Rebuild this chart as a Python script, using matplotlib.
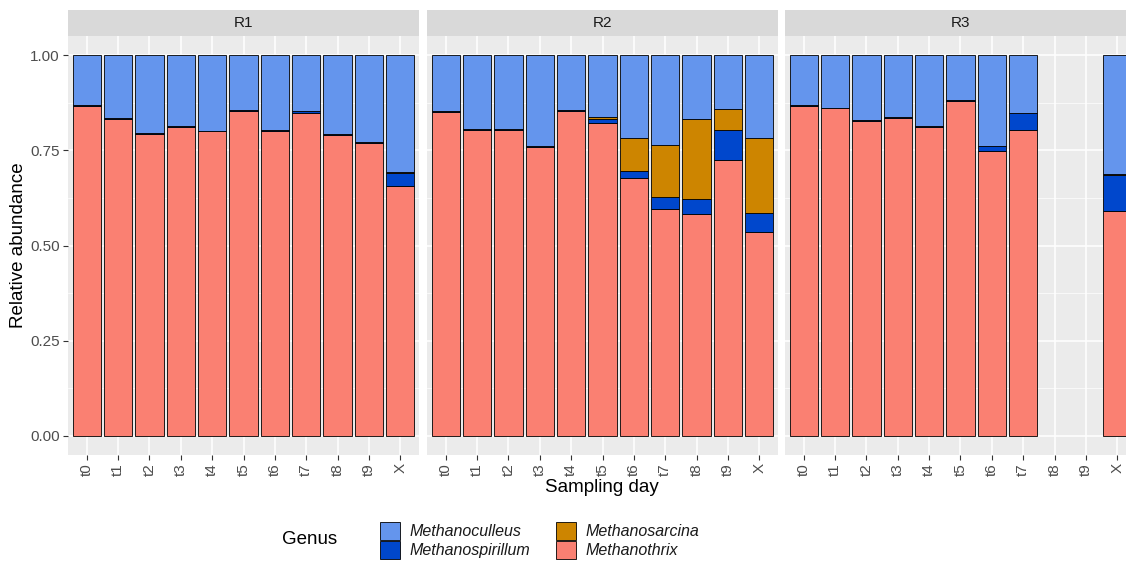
import numpy as np
import matplotlib
matplotlib.use("Agg")
import matplotlib.pyplot as plt
from matplotlib.patches import Patch

plt.rcParams['font.family'] = ['Liberation Sans', 'DejaVu Sans']

# %%
# Data
days = ['t0', 't1', 't2', 't3', 't4', 't5', 't6', 't7', 't8', 't9', 'X']
reactors = ['R1', 'R2', 'R3']
genera = ['Methanothrix', 'Methanospirillum', 'Methanosarcina', 'Methanoculleus']

r1_thrix = [0.866, 0.833, 0.792, 0.810, 0.800, 0.853, 0.800, 0.848, 0.790, 0.768, 0.655]
r1_spir = [0.004, 0.001, 0.003, 0.003, 0.001, 0.002, 0.003, 0.004, 0.004, 0.003, 0.035]
r1_sarc = [0.0, 0.0, 0.0, 0.0, 0.0, 0.0, 0.0, 0.0, 0.0, 0.0, 0.003]
r1_cull = [0.130, 0.166, 0.205, 0.187, 0.199, 0.145, 0.197, 0.148, 0.206, 0.229, 0.307]

r2_thrix = [0.850, 0.804, 0.804, 0.758, 0.852, 0.822, 0.678, 0.597, 0.583, 0.724, 0.535]
r2_spir = [0.003, 0.003, 0.003, 0.003, 0.004, 0.010, 0.018, 0.031, 0.038, 0.078, 0.051]
r2_sarc = [0.0, 0.0, 0.0, 0.0, 0.0, 0.006, 0.086, 0.135, 0.210, 0.056, 0.195]
r2_cull = [0.147, 0.193, 0.193, 0.239, 0.144, 0.162, 0.218, 0.237, 0.169, 0.142, 0.219]

nan = np.nan
r3_thrix = [0.866, 0.861, 0.828, 0.835, 0.810, 0.879, 0.748, 0.802, nan, nan, 0.590]
r3_spir = [0.003, 0.001, 0.001, 0.003, 0.003, 0.003, 0.014, 0.045, nan, nan, 0.094]
r3_sarc = [0.0, 0.0, 0.0, 0.0, 0.0, 0.0, 0.0, 0.0, nan, nan, 0.004]
r3_cull = [0.131, 0.138, 0.171, 0.162, 0.187, 0.118, 0.238, 0.153, nan, nan, 0.312]

data = {
    'R1': [r1_thrix, r1_spir, r1_sarc, r1_cull],
    'R2': [r2_thrix, r2_spir, r2_sarc, r2_cull],
    'R3': [r3_thrix, r3_spir, r3_sarc, r3_cull],
}

colors = {'Methanoculleus': '#6495ED', 'Methanospirillum': '#0047CC',
          'Methanosarcina': '#CD8500', 'Methanothrix': '#FA8072'}

# %%
W, H = 1126, 565
fig = plt.figure(figsize=(W / 100, H / 100), dpi=100)

lefts = [68, 427, 785]
pw = 351
top_px, bot_px = 36, 455
x = np.arange(len(days))

for i, r in enumerate(reactors):
    ax = fig.add_axes([lefts[i] / W, 1 - bot_px / H, pw / W, (bot_px - top_px) / H])
    ax.set_facecolor('#EBEBEB')
    bottom = np.zeros(len(days))
    for g, vals in zip(genera, data[r]):
        vals = np.array(vals, dtype=float)
        ok = ~np.isnan(vals)
        ax.bar(x[ok], vals[ok], bottom=bottom[ok], width=0.9,
               color=colors[g], edgecolor='black', linewidth=0.6, zorder=3)
        bottom = bottom + np.nan_to_num(vals)
    ax.set_xlim(-0.6, len(days) - 0.4)
    ax.set_ylim(-0.05, 1.05)
    ax.set_yticks([0, 0.25, 0.5, 0.75, 1.0])
    ax.set_yticks([0.125, 0.375, 0.625, 0.875], minor=True)
    ax.set_xticks(x)
    ax.set_xticklabels(days, rotation=90, ha='center', va='top',
                       fontsize=11, color='#4D4D4D')
    ax.grid(which='major', color='white', linewidth=1.1, zorder=0)
    ax.grid(which='minor', axis='y', color='white', linewidth=0.5, zorder=0)
    ax.set_axisbelow(True)
    for s in ax.spines.values():
        s.set_visible(False)
    ax.tick_params(axis='both', which='major', length=3.5, width=0.8,
                   color='#333333', pad=2.5)
    ax.tick_params(axis='y', which='minor', length=0)
    if i == 0:
        ax.set_yticklabels(['0.00', '0.25', '0.50', '0.75', '1.00'],
                           fontsize=11, color='#4D4D4D')
    else:
        ax.tick_params(axis='y', which='major', length=0, labelleft=False)

    # facet strip
    sax = fig.add_axes([lefts[i] / W, 1 - top_px / H, pw / W, 26 / H])
    sax.set_facecolor('#D9D9D9')
    sax.set_xticks([])
    sax.set_yticks([])
    for s in sax.spines.values():
        s.set_visible(False)
    sax.text(0.5, 0.5, r, ha='center', va='center', fontsize=11,
             color='#1A1A1A', transform=sax.transAxes)

fig.text(602 / W, 1 - 488 / H, 'Sampling day', ha='center', va='center',
         fontsize=13.5)
fig.text(19 / W, 1 - 245 / H, 'Relative abundance', ha='center', va='center',
         rotation=90, fontsize=13.5)

# legend
fig.text(282 / W, 1 - 540 / H, 'Genus', ha='left', va='center', fontsize=13.5)
leg_order = ['Methanoculleus', 'Methanospirillum', 'Methanosarcina', 'Methanothrix']
handles = [Patch(facecolor=colors[g], edgecolor='black', linewidth=0.6, label=g)
           for g in leg_order]
leg = fig.legend(handles=handles, ncol=2, loc='center left',
                 bbox_to_anchor=(380 / W, 1 - 540.5 / H), frameon=False,
                 prop={'size': 11.5, 'style': 'italic'}, handlelength=1.25,
                 handleheight=1.3, handletextpad=0.6, labelspacing=0.1,
                 columnspacing=1.6, borderpad=0, borderaxespad=0)
for t in leg.get_texts():
    t.set_color('#1A1A1A')

fig.savefig('out.png', dpi=100)
